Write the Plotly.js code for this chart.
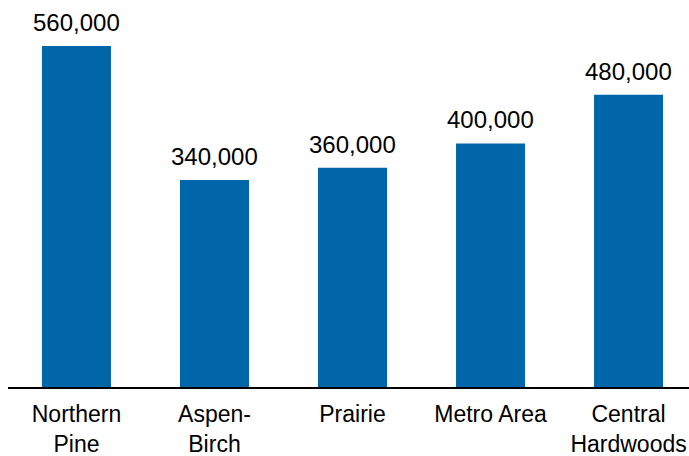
<!DOCTYPE html>
<html>
<head>
<meta charset="utf-8">
<script src="https://cdn.plot.ly/plotly-3.0.1.min.js"></script>
<style>html,body{margin:0;padding:0;background:#fff;}#chart{width:689px;height:456px;}</style>
</head>
<body>
<div id="chart"></div>
<script>
const categories = ["Northern<br>Pine", "Aspen-<br>Birch", "Prairie", "Metro Area", "Central<br>Hardwoods"];
const values = [560000, 340000, 360000, 400000, 480000];
const valueLabels = ["560,000", "340,000", "360,000", "400,000", "480,000"];

const trace = {
  type: 'bar',
  x: categories.map((c, i) => i),
  y: values,
  marker: {color: '#0066AA'},
  hoverinfo: 'none'
};

const annotations = values.map((v, i) => ({
  x: i, y: v, xref: 'x', yref: 'y',
  text: valueLabels[i],
  showarrow: false,
  yanchor: 'bottom',
  yshift: 8,
  font: {family: 'Liberation Sans, Arial, sans-serif', size: 24, color: '#000'}
}));

const layout = {
  width: 689, height: 456,
  margin: {l: 8, r: 0, t: 0, b: 69},
  paper_bgcolor: '#fff', plot_bgcolor: '#fff',
  showlegend: false,
  bargap: 0.5,
  font: {family: 'Liberation Sans, Arial, sans-serif', size: 23, color: '#000'},
  xaxis: {
    range: [-0.496, 4.438],
    tickvals: categories.map((c, i) => i),
    ticktext: categories,
    showgrid: false, zeroline: false,
    showline: true, linecolor: '#000', linewidth: 2,
    ticks: '',
    ticklabelstandoff: 5,
    tickfont: {family: 'Liberation Sans, Arial, sans-serif', size: 23, color: '#000'},
    fixedrange: true
  },
  yaxis: {
    range: [0, 635600],
    visible: false, showgrid: false, zeroline: false,
    fixedrange: true
  },
  annotations: annotations
};

Plotly.newPlot('chart', [trace], layout, {displayModeBar: false, staticPlot: true});
</script>
</body>
</html>
